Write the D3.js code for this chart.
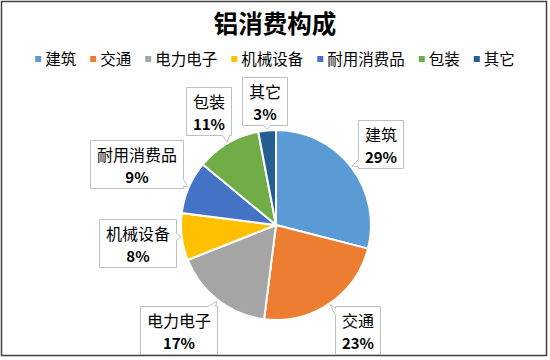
<!DOCTYPE html>
<html>
<head>
<meta charset="utf-8">
<script src="https://cdn.jsdelivr.net/npm/d3@7"></script>
<style>
  body { margin: 0; background: #fff; }
  text { font-family: "Noto Sans CJK SC", "Noto Sans", sans-serif; }
</style>
</head>
<body>
<div id="chart"></div>
<script>
// data
var categories = ["建筑", "交通", "电力电子", "机械设备", "耐用消费品", "包装", "其它"];
var values = [29, 23, 17, 8, 9, 11, 3];
var colors = ["#5B9BD5", "#ED7D31", "#A5A5A5", "#FFC000", "#4472C4", "#70AD47", "#255E91"];

var width = 550, height = 360;
var cx = 276, cy = 225, radius = 95;
var plotBottom = 354;

var svg = d3.select("#chart").append("svg")
  .attr("width", width)
  .attr("height", height);

svg.append("rect")
  .attr("width", width).attr("height", height)
  .attr("fill", "#fff");

// frame
svg.append("rect")
  .attr("x", 1.5).attr("y", 1.5)
  .attr("width", 545).attr("height", 354)
  .attr("fill", "none")
  .attr("stroke", "#404040")
  .attr("stroke-width", 1.5);

// title
svg.append("text")
  .attr("x", width / 2).attr("y", 33)
  .attr("text-anchor", "middle")
  .attr("font-size", 24.5)
  .attr("font-weight", "bold")
  .attr("fill", "#000")
  .text("铝消费构成");

// legend
var legend = svg.append("g");
var lx = 0;
categories.forEach(function(c, i) {
  var g = legend.append("g").attr("transform", "translate(" + lx + ",0)");
  g.append("rect").attr("x", 0).attr("y", -3).attr("width", 6).attr("height", 6).attr("fill", colors[i]);
  var t = g.append("text").attr("x", 10).attr("y", 5.5).attr("font-size", 15.5).attr("fill", "#000").text(c);
  lx += 10 + t.node().getComputedTextLength() + 14;
});
lx -= 14;
legend.attr("transform", "translate(" + ((width - lx) / 2) + ",59)");

// pie
var pie = d3.pie().sort(null).value(function(d) { return d; });
var arcs = pie(values);
var arc = d3.arc().innerRadius(0).outerRadius(radius);

var pieG = svg.append("g").attr("transform", "translate(" + cx + "," + cy + ")");
pieG.selectAll("path")
  .data(arcs)
  .enter().append("path")
  .attr("d", arc)
  .attr("fill", function(d, i) { return colors[i]; })
  .attr("stroke", "#fff")
  .attr("stroke-width", 2);

// callout labels
function calloutPath(x0, y0, x1, y1, tx, ty) {
  var over = [
    { side: "top", v: y0 - ty },
    { side: "bottom", v: ty - y1 },
    { side: "left", v: x0 - tx },
    { side: "right", v: tx - x1 }
  ].sort(function(a, b) { return b.v - a.v; })[0].side;
  var w = 7;
  var p;
  if (over === "top") {
    p = Math.max(x0 + 2, Math.min(x1 - 2 - w, tx - w / 2));
    return "M" + x0 + "," + y0 + "L" + p + "," + y0 + "L" + tx + "," + ty + "L" + (p + w) + "," + y0 +
      "L" + x1 + "," + y0 + "L" + x1 + "," + y1 + "L" + x0 + "," + y1 + "Z";
  }
  if (over === "bottom") {
    p = Math.max(x0 + 2, Math.min(x1 - 2 - w, tx - w / 2));
    return "M" + x0 + "," + y0 + "L" + x1 + "," + y0 + "L" + x1 + "," + y1 + "L" + (p + w) + "," + y1 +
      "L" + tx + "," + ty + "L" + p + "," + y1 + "L" + x0 + "," + y1 + "Z";
  }
  if (over === "left") {
    p = Math.max(y0 + 2, Math.min(y1 - 2 - w, ty - w / 2));
    return "M" + x0 + "," + y0 + "L" + x1 + "," + y0 + "L" + x1 + "," + y1 + "L" + x0 + "," + y1 +
      "L" + x0 + "," + (p + w) + "L" + tx + "," + ty + "L" + x0 + "," + p + "Z";
  }
  p = Math.max(y0 + 2, Math.min(y1 - 2 - w, ty - w / 2));
  return "M" + x0 + "," + y0 + "L" + x1 + "," + y0 + "L" + x1 + "," + p + "L" + tx + "," + ty +
    "L" + x1 + "," + (p + w) + "L" + x1 + "," + y1 + "L" + x0 + "," + y1 + "Z";
}

// distance from pie centre to the nearest point of a box
function nearest(bx, by, bw, bh) {
  var nx = Math.max(bx - bw / 2, Math.min(bx + bw / 2, cx));
  var ny = Math.max(by - bh / 2, Math.min(by + bh / 2, cy));
  return Math.hypot(nx - cx, ny - cy);
}

var total = d3.sum(values);
var labelG = svg.append("g");
arcs.forEach(function(d, i) {
  var mid = (d.startAngle + d.endAngle) / 2;
  var g = labelG.append("g");
  var name = g.append("text").attr("text-anchor", "middle").attr("fill", "#000")
    .attr("font-family", "Lato, 'Noto Sans CJK SC', sans-serif")
    .attr("font-size", 16).text(categories[i]);
  var pct = g.append("text").attr("text-anchor", "middle").attr("fill", "#000")
    .attr("font-family", "Lato, 'Open Sans', sans-serif")
    .attr("font-size", 15).attr("font-weight", "bold")
    .text(Math.round(d.value / total * 100) + "%");
  var tw = Math.max(name.node().getComputedTextLength(), pct.node().getComputedTextLength());
  var bw = Math.round(tw + 13), bh = 48;
  // push the box outward until it clears the pie, keeping it inside the plot area
  var dist = radius, bx, by;
  do {
    dist += 0.5;
    bx = cx + dist * Math.sin(mid);
    by = Math.min(cy - dist * Math.cos(mid), plotBottom - bh / 2);
  } while (nearest(bx, by, bw, bh) < radius + 5);
  var x0 = Math.round(bx - bw / 2) + 0.5, y0 = Math.round(by - bh / 2) + 0.5;
  var tx = cx + (radius + 1) * Math.sin(mid), ty = cy - (radius + 1) * Math.cos(mid);
  g.insert("path", "text")
    .attr("d", calloutPath(x0, y0, x0 + bw, y0 + bh, tx, ty))
    .attr("fill", "#fff")
    .attr("stroke", "#BFBFBF")
    .attr("stroke-width", 1);
  name.attr("x", x0 + bw / 2).attr("y", y0 + 20.5);
  pct.attr("x", x0 + bw / 2).attr("y", y0 + 42);
});
</script>
</body>
</html>
